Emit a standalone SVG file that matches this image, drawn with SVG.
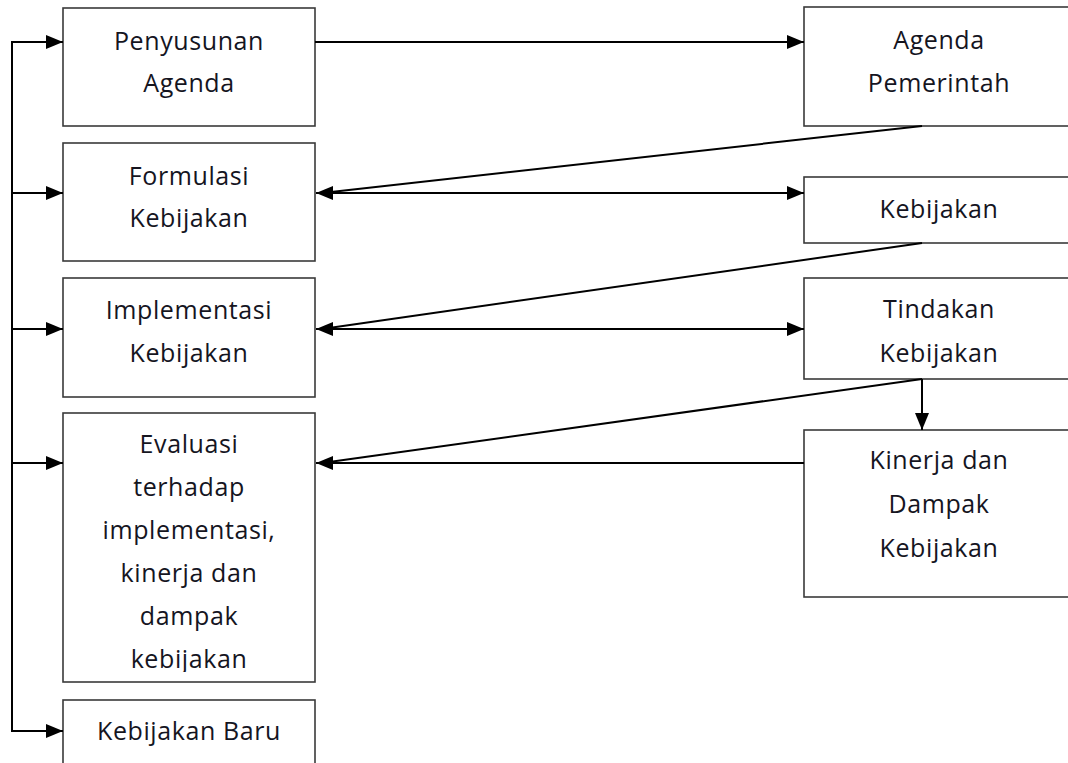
<svg xmlns="http://www.w3.org/2000/svg" width="1068" height="763" viewBox="0 0 1068 763">
<style>
.box{fill:#fff;stroke:#3a3a3a;stroke-width:1.6}
.t{font-family:"Open Sans","Noto Sans",sans-serif;font-size:25px;letter-spacing:0.6px;fill:#15151f;text-anchor:middle}
.c{fill:none;stroke:#000;stroke-width:2}
</style>
<defs>
<marker id="ah" markerUnits="userSpaceOnUse" markerWidth="18" markerHeight="16" refX="17" refY="7" orient="auto-start-reverse" viewBox="0 0 18 14">
<path d="M0,0 L17,7 L0,14 z" fill="#000"/>
</marker>
<clipPath id="clipEval"><rect x="63" y="413" width="252" height="259"/></clipPath>
</defs>
<rect width="1068" height="763" fill="#fff"/>
<g id="n-penyusunan"><rect class="box" x="63" y="8" width="252" height="118"/><text class="t" x="189" y="50">Penyusunan</text><text class="t" x="189" y="92">Agenda</text></g>
<g id="n-formulasi"><rect class="box" x="63" y="143" width="252" height="118"/><text class="t" x="189" y="185">Formulasi</text><text class="t" x="189" y="227">Kebijakan</text></g>
<g id="n-implementasi"><rect class="box" x="63" y="278" width="252" height="119"/><text class="t" x="189" y="319">Implementasi</text><text class="t" x="189" y="362">Kebijakan</text></g>
<g id="n-evaluasi"><rect class="box" x="63" y="413" width="252" height="269"/>
<g clip-path="url(#clipEval)"><text class="t" x="189" y="453">Evaluasi</text><text class="t" x="189" y="496">terhadap</text><text class="t" x="189" y="539">implementasi,</text><text class="t" x="189" y="582">kinerja dan</text><text class="t" x="189" y="625">dampak</text><text class="t" x="189" y="668">kebijakan</text></g></g>
<g id="n-baru"><rect class="box" x="63" y="700" width="252" height="80"/><text class="t" x="189" y="740">Kebijakan Baru</text></g>
<g id="n-agenda-pemerintah"><rect class="box" x="804" y="7" width="280" height="119"/><text class="t" x="939" y="49">Agenda</text><text class="t" x="939" y="92">Pemerintah</text></g>
<g id="n-kebijakan"><rect class="box" x="804" y="177" width="280" height="66"/><text class="t" x="939" y="218">Kebijakan</text></g>
<g id="n-tindakan"><rect class="box" x="804" y="278" width="280" height="101"/><text class="t" x="939" y="318">Tindakan</text><text class="t" x="939" y="362">Kebijakan</text></g>
<g id="n-kinerja"><rect class="box" x="804" y="430" width="280" height="167"/><text class="t" x="939" y="469">Kinerja dan</text><text class="t" x="939" y="513">Dampak</text><text class="t" x="939" y="557">Kebijakan</text></g>
<g id="connectors">
<path class="c" d="M12,42 V731"/>
<path class="c" d="M11,42 H63" marker-end="url(#ah)"/>
<path class="c" d="M12,193 H63" marker-end="url(#ah)"/>
<path class="c" d="M12,329 H63" marker-end="url(#ah)"/>
<path class="c" d="M12,463 H63" marker-end="url(#ah)"/>
<path class="c" d="M11,731 H63" marker-end="url(#ah)"/>
<path class="c" d="M315,42 H804" marker-end="url(#ah)"/>
<path class="c" d="M316,193 H804" marker-start="url(#ah)" marker-end="url(#ah)"/>
<path class="c" d="M922,126 L322,193"/>
<path class="c" d="M316,329 H804" marker-start="url(#ah)" marker-end="url(#ah)"/>
<path class="c" d="M922,243 L322,329"/>
<path class="c" d="M804,463 H316" marker-end="url(#ah)"/>
<path class="c" d="M922,379 L322,463"/>
<path class="c" d="M922,379 V430" marker-end="url(#ah)"/>
</g>
</svg>
